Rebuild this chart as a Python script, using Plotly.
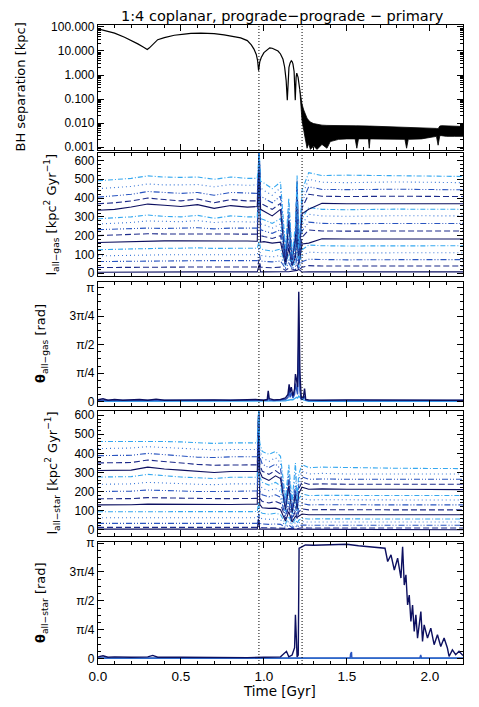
import numpy as np
import plotly.graph_objects as go

PI = np.pi

# ── BH separation [kpc] ──────────────────────────────────────────────────────
SEP_T = [0.0, 0.06, 0.1, 0.16, 0.2, 0.24, 0.27, 0.285, 0.297, 0.31,
         0.33, 0.36, 0.4, 0.46, 0.52, 0.56, 0.62, 0.66, 0.7, 0.76,
         0.8, 0.86, 0.9, 0.924, 0.94, 0.954, 0.962, 0.968, 0.975, 0.984,
         1.0, 1.02, 1.035, 1.05, 1.07, 1.085, 1.1, 1.115, 1.125, 1.134,
         1.141, 1.146, 1.151, 1.158, 1.165, 1.17, 1.175, 1.182, 1.189, 1.194,
         1.198, 1.206, 1.212, 1.216]
SEP_V = [83, 65, 55, 37, 28, 19.7, 15, 13, 11.5, 13.5,
         19, 29.5, 36, 45, 50, 54, 55.5, 55, 53, 47,
         42, 35, 27, 18, 12, 7.2, 4, 1.5, 3.5, 5.3,
         8.5, 11.5, 13.5, 13, 11.5, 9.9, 7.5, 4.5, 2.1, 0.6,
         0.09, 1.2, 2.1, 3.2, 3.9, 3.6, 2.9, 1.4, 0.09, 0.8,
         1.2, 0.8, 0.4, 0.25]

# noisy post-coalescence band: upper / lower envelope
BAND_T = [1.216, 1.22, 1.225, 1.23, 1.24, 1.25, 1.26, 1.27, 1.28, 1.3,
          1.32, 1.35, 1.38, 1.4, 1.45, 1.5, 1.55, 1.56, 1.57, 1.63,
          1.635, 1.64, 1.7, 1.8, 1.85, 1.86, 1.87, 1.95, 2.0, 2.04,
          2.05, 2.06, 2.07, 2.1, 2.15, 2.2]
BAND_HI = [0.25, 0.15, 0.09, 0.06, 0.035, 0.022, 0.016, 0.013, 0.011, 0.0095,
           0.0088, 0.0082, 0.008, 0.0079, 0.0078, 0.0077, 0.0077, 0.0077, 0.0076, 0.0075,
           0.0075, 0.0075, 0.0073, 0.007, 0.0068, 0.0068, 0.0068, 0.0066, 0.0064, 0.006,
           0.0058, 0.0075, 0.0078, 0.0076, 0.0074, 0.0072]
BAND_LO = [0.25, 0.08, 0.03, 0.012, 0.005, 0.002, 0.0009, 0.0014, 0.0008, 0.0011,
           0.0008, 0.0013, 0.0009, 0.0017, 0.0021, 0.0022, 0.0022, 0.0009, 0.0022, 0.0022,
           0.0009, 0.0022, 0.0022, 0.0022, 0.0021, 0.0009, 0.0021, 0.0022, 0.0025, 0.0028,
           0.0012, 0.003, 0.003, 0.0028, 0.0028, 0.0028]

# ── l_all-gas, 15 shells ─────────────────────────────────────────────────────
GAS_T = [0.0, 0.1, 0.2, 0.3, 0.4, 0.5, 0.6, 0.7, 0.8, 0.9, 0.96,
         0.972, 0.98, 1.0, 1.05, 1.1, 1.13, 1.15, 1.17, 1.19, 1.2, 1.21,
         1.23, 1.27, 1.35, 1.5, 1.8, 2.2]
GAS_L = [
    [5, 6, 6, 7, 7, 7, 7, 7, 7, 7, 7, 47, 7, 7, 6, 7, 8, 8, 10, 10, 15, 20, 6, 7, 7, 7, 7, 7],
    [30, 31, 32, 33, 33, 33, 33, 33, 33, 33, 33, 73, 32, 31, 29, 32, 15, 27, 20, 17, 45, 15, 32, 40, 38, 37, 38, 38],
    [62, 63, 65, 66, 67, 67, 67, 67, 67, 67, 67, 107, 65, 63, 60, 65, 25, 55, 25, 34, 90, 20, 61, 74, 72, 71, 72, 72],
    [92, 94, 96, 98, 98, 98, 99, 98, 98, 98, 98, 138, 95, 92, 86, 95, 30, 80, 30, 50, 130, 30, 93, 112, 109, 108, 110, 109],
    [125, 128, 131, 134, 133, 133, 135, 132, 133, 133, 133, 173, 129, 125, 117, 129, 40, 105, 35, 67, 175, 35, 124, 150, 146, 145, 147, 146],
    [163, 166, 168, 171, 172, 172, 173, 172, 171, 171, 170, 640, 165, 168, 160, 165, 45, 135, 40, 85, 230, 45, 155, 160, 183, 182, 183, 182],
    [200, 203, 206, 210, 209, 209, 210, 208, 209, 208, 208, 640, 200, 195, 185, 200, 50, 165, 45, 105, 280, 55, 191, 230, 225, 224, 226, 225],
    [232, 234, 236, 240, 238, 238, 242, 236, 240, 240, 240, 640, 232, 225, 212, 232, 55, 190, 50, 120, 320, 60, 225, 272, 265, 264, 266, 265],
    [262, 265, 270, 278, 274, 274, 280, 270, 275, 272, 272, 640, 262, 258, 240, 262, 60, 215, 55, 135, 360, 70, 259, 314, 305, 303, 306, 305],
    [290, 294, 300, 310, 302, 300, 308, 292, 305, 300, 300, 640, 290, 285, 265, 290, 70, 240, 60, 150, 400, 75, 289, 350, 340, 338, 341, 340],
    [335, 340, 352, 368, 362, 355, 365, 345, 360, 352, 355, 640, 340, 330, 305, 340, 60, 280, 70, 180, 490, 90, 316, 340, 372, 370, 371, 370],
    [370, 375, 385, 400, 392, 385, 395, 375, 392, 385, 385, 640, 372, 362, 340, 372, 80, 310, 75, 195, 470, 100, 348, 420, 410, 408, 410, 408],
    [405, 412, 420, 435, 428, 425, 430, 415, 430, 425, 425, 640, 410, 400, 375, 410, 90, 340, 80, 215, 480, 110, 379, 460, 446, 445, 447, 444],
    [450, 455, 462, 475, 470, 470, 472, 460, 472, 468, 470, 640, 455, 440, 415, 455, 110, 375, 90, 235, 500, 120, 411, 500, 484, 482, 486, 482],
    [492, 498, 505, 518, 512, 510, 512, 500, 512, 505, 505, 640, 490, 480, 450, 485, 130, 400, 100, 255, 520, 130, 442, 535, 520, 522, 518, 515],
]

# ── theta_all-gas ────────────────────────────────────────────────────────────
THG_T = [0.0, 0.03, 0.06, 0.1, 0.15, 0.2, 0.25, 0.3, 0.35, 0.4,
         0.5, 0.6, 0.7, 0.8, 0.9, 0.95,
         1.0, 1.02, 1.026, 1.032, 1.06, 1.1, 1.13,
         1.145, 1.152, 1.158, 1.165, 1.175, 1.185, 1.19, 1.197, 1.203,
         1.21, 1.217, 1.225, 1.238, 1.245, 1.252, 1.27,
         1.35, 1.5, 1.7, 1.9, 2.1, 2.2]
THG_NAVY = [0.05, 0.08, 0.04, 0.06, 0.04, 0.05, 0.06, 0.04, 0.07, 0.04,
            0.05, 0.06, 0.05, 0.04, 0.05, 0.06,
            0.04, 0.06, 0.30, 0.08, 0.05, 0.06, 0.1,
            0.2, 0.48, 0.25, 0.4, 0.15, 0.35, 0.76, 0.6, 0.4,
            3.03, 0.8, 0.1, 0.12, 0.36, 0.06, 0.05,
            0.04, 0.05, 0.04, 0.05, 0.04, 0.04]
THG_BLUE = [0.03, 0.03, 0.04, 0.03, 0.03, 0.04, 0.03, 0.03, 0.04, 0.03,
            0.03, 0.04, 0.03, 0.03, 0.04, 0.03,
            0.03, 0.04, 0.12, 0.04, 0.03, 0.04, 0.06,
            0.12, 0.3, 0.12, 0.25, 0.1, 0.2, 0.5, 0.35, 0.2,
            1.6, 0.3, 0.06, 0.08, 0.15, 0.04, 0.03,
            0.03, 0.03, 0.03, 0.03, 0.03, 0.03]
THG_LIGHT = [0.01, 0.01, 0.01, 0.01, 0.01, 0.01, 0.01, 0.01, 0.01, 0.01,
             0.01, 0.01, 0.01, 0.01, 0.01, 0.01,
             0.01, 0.01, 0.02, 0.01, 0.01, 0.01, 0.02,
             0.04, 0.05, 0.04, 0.06, 0.05, 0.08, 0.1, 0.12, 0.1,
             0.15, 0.12, 0.08, 0.05, 0.04, 0.02, 0.01,
             0.01, 0.01, 0.01, 0.01, 0.01, 0.01]

# ── l_all-star, 15 shells ────────────────────────────────────────────────────
STAR_T = [0.0, 0.1, 0.2, 0.3, 0.4, 0.5, 0.6, 0.7, 0.8, 0.9, 0.96,
          0.968, 0.975, 0.99, 1.03, 1.07, 1.1, 1.13, 1.15, 1.17, 1.19, 1.2,
          1.21, 1.23, 1.27, 1.35, 1.5, 1.8, 2.2]
STAR_L = [
    [3, 3, 3, 3, 3, 3, 3, 3, 3, 3, 3, 53, 3, 3, 3, 3, 3, 2, 3, 2, 2, 2, 0, 0, 0, 0, 0, 0, 0],
    [12, 12, 12, 12, 12, 12, 12, 12, 12, 12, 12, 62, 12, 11, 10, 11, 10, 6, 9, 5, 7, 5, 8, 10, 9, 9, 9, 9, 9],
    [33, 33, 33, 33, 34, 33, 33, 33, 33, 33, 33, 83, 33, 30, 28, 30, 28, 12, 25, 10, 20, 12, 21, 24, 23, 23, 23, 23, 23],
    [63, 63, 63, 64, 64, 63, 63, 63, 63, 63, 63, 113, 63, 57, 54, 57, 53, 20, 47, 18, 38, 22, 36, 42, 40, 40, 40, 40, 40],
    [94, 94, 95, 96, 96, 95, 95, 95, 94, 95, 95, 145, 95, 86, 81, 86, 80, 30, 71, 28, 57, 33, 50, 59, 56, 57, 56, 56, 56],
    [130, 130, 131, 134, 133, 132, 133, 132, 132, 133, 133, 620, 133, 115, 112, 113, 105, 45, 95, 40, 70, 65, 70, 82, 78, 79, 78, 78, 78],
    [162, 163, 163, 168, 166, 164, 165, 163, 163, 164, 164, 620, 164, 148, 140, 148, 138, 55, 125, 50, 100, 58, 94, 109, 104, 105, 104, 104, 104],
    [200, 200, 202, 208, 205, 202, 200, 200, 202, 203, 203, 620, 203, 183, 172, 183, 170, 70, 150, 60, 122, 71, 117, 137, 130, 131, 130, 130, 130],
    [238, 238, 240, 248, 244, 240, 238, 236, 240, 240, 240, 620, 240, 216, 204, 216, 200, 80, 180, 70, 144, 84, 140, 164, 156, 157, 156, 156, 156],
    [276, 276, 278, 290, 282, 276, 272, 268, 275, 275, 275, 620, 275, 248, 234, 248, 230, 95, 205, 80, 165, 96, 161, 188, 179, 180, 179, 179, 179],
    [310, 310, 312, 328, 318, 312, 306, 300, 305, 305, 305, 620, 305, 275, 258, 282, 268, 105, 230, 90, 185, 107, 190, 223, 212, 214, 212, 212, 210],
    [350, 350, 352, 365, 356, 350, 342, 338, 340, 340, 340, 620, 340, 306, 290, 310, 290, 115, 255, 100, 205, 119, 214, 250, 238, 240, 238, 238, 238],
    [388, 388, 390, 400, 394, 388, 380, 378, 382, 382, 382, 620, 382, 344, 325, 344, 320, 130, 285, 115, 230, 134, 238, 277, 264, 266, 264, 264, 264],
    [425, 425, 428, 435, 430, 426, 420, 418, 420, 420, 420, 620, 420, 378, 357, 378, 350, 145, 315, 130, 300, 147, 263, 307, 292, 295, 292, 292, 292],
    [462, 462, 462, 465, 462, 460, 455, 452, 455, 455, 455, 620, 455, 410, 395, 410, 385, 160, 340, 145, 350, 160, 292, 341, 325, 328, 325, 322, 320],
]

# ── theta_all-star ───────────────────────────────────────────────────────────
THS_T = [0.0, 0.03, 0.06, 0.1, 0.2, 0.3, 0.33, 0.36, 0.5, 0.7,
         0.9, 1.0, 1.1, 1.136, 1.15, 1.17, 1.185, 1.19, 1.195, 1.2,
         1.207, 1.212, 1.22, 1.25, 1.3, 1.4, 1.5, 1.57, 1.63, 1.67,
         1.73, 1.746, 1.766, 1.786, 1.806, 1.826, 1.836, 1.846, 1.856, 1.866,
         1.876, 1.886, 1.896, 1.906, 1.916, 1.926, 1.946, 1.956, 1.966, 1.986,
         2.006, 2.026, 2.046, 2.066, 2.086, 2.106, 2.116, 2.136, 2.156, 2.176,
         2.2]
THS_NAVY = [0.05, 0.08, 0.04, 0.05, 0.04, 0.05, 0.09, 0.04, 0.04, 0.03,
            0.03, 0.04, 0.05, 0.2, 0.05, 0.1, 0.3, 1.19, 0.7, 0.05,
            0.1, 3.0, 3.02, 3.09, 3.08, 3.1, 3.11, 3.07, 3.04, 3.02,
            3.0, 2.64, 2.82, 2.41, 2.73, 2.19, 3.04, 2.0, 2.28, 1.46,
            1.73, 1.01, 1.46, 0.74, 1.19, 0.56, 1.28, 0.47, 0.92, 0.56,
            0.83, 0.38, 0.65, 0.33, 0.56, 0.29, 0.06, 0.24, 0.11, 0.2,
            0.09]
THS_LOW_T = [0.0, 0.5, 1.0, 1.2, 1.21, 1.3, 1.52, 1.522, 1.528, 1.53,
             1.7, 1.94, 1.945, 1.95, 2.2]
THS_BLUE = [0.02, 0.02, 0.02, 0.03, 0.03, 0.02, 0.02, 0.12, 0.18, 0.02,
            0.02, 0.02, 0.1, 0.02, 0.02]
THS_LIGHT = [0.01, 0.01, 0.01, 0.01, 0.01, 0.01, 0.01, 0.01, 0.01, 0.01,
             0.01, 0.01, 0.02, 0.01, 0.01]

MERGER_T = [0.97, 1.23]

# line styles cycle over shells (IDL-like)
SHELL_COLORS = ["#0d1060", "#1c2a8a", "#2a55c0", "#3b78d8", "#35a8f0"]
SHELL_DASH = ["solid", "6px,3px", "6px,2px,1px,2px,1px,2px", "1px,3px", "5px,2px,1px,2px"]

NAVY, BLUE, LIGHT = "#0d1060", "#2a55c0", "#35a8f0"
TICK_FONT = "Liberation Sans"
TEXT_FONT = "DejaVu Sans"

fig = go.Figure()

# panel 1
fig.add_trace(go.Scatter(x=SEP_T, y=SEP_V, mode="lines",
                         line=dict(color="black", width=1.2), xaxis="x", yaxis="y"))
fig.add_trace(go.Scatter(x=BAND_T, y=BAND_LO, mode="lines",
                         line=dict(color="black", width=0.8), xaxis="x", yaxis="y"))
fig.add_trace(go.Scatter(x=BAND_T, y=BAND_HI, mode="lines", fill="tonexty",
                         fillcolor="black", line=dict(color="black", width=0.8),
                         xaxis="x", yaxis="y"))


def add_shells(times, rows, xa, ya):
    for i, row in enumerate(rows):
        k = i % 5
        fig.add_trace(go.Scatter(x=times, y=row, mode="lines", xaxis=xa, yaxis=ya,
                                 line=dict(color=SHELL_COLORS[k], width=1.1,
                                           dash=SHELL_DASH[k])))


add_shells(GAS_T, GAS_L, "x2", "y2")
for vals, col in [(THG_LIGHT, LIGHT), (THG_BLUE, BLUE), (THG_NAVY, NAVY)]:
    fig.add_trace(go.Scatter(x=THG_T, y=vals, mode="lines", xaxis="x3", yaxis="y3",
                             line=dict(color=col, width=1.4)))
add_shells(STAR_T, STAR_L, "x4", "y4")
for t, vals, col in [(THS_LOW_T, THS_LIGHT, LIGHT), (THS_LOW_T, THS_BLUE, BLUE),
                     (THS_T, THS_NAVY, NAVY)]:
    fig.add_trace(go.Scatter(x=t, y=vals, mode="lines", xaxis="x5", yaxis="y5",
                             line=dict(color=col, width=1.4)))

# merger markers
for n in range(1, 6):
    suffix = "" if n == 1 else str(n)
    for t in MERGER_T:
        fig.add_shape(type="line", x0=t, x1=t, y0=0, y1=1,
                      xref="x" + suffix, yref="y" + suffix + " domain",
                      line=dict(color="black", width=1, dash="1px,2px"))


def frame(**kw):
    base = dict(showline=True, linecolor="black", linewidth=1.3, mirror="allticks",
                ticks="inside", ticklen=6, tickwidth=1, tickcolor="black",
                showgrid=False, zeroline=False,
                tickfont=dict(family=TICK_FONT, size=12, color="black"))
    base.update(kw)
    return base


TOTAL_H, TOP, BOT = 707, 17, 51
PLOT_H = TOTAL_H - TOP - BOT
PANEL_PX = [(17, 142), (145, 268), (274, 398), (403, 528), (534, 656)]
domains = [[(TOTAL_H - BOT - b) / PLOT_H, (TOTAL_H - BOT - a) / PLOT_H] for a, b in PANEL_PX]

pi_ticks = dict(tickmode="array", tickvals=[0, PI / 4, PI / 2, 3 * PI / 4, PI],
                ticktext=["0", "π/4", "π/2", "3π/4", "π"],
                minor=dict(ticks="inside", ticklen=3, tickcolor="black", dtick=PI / 16,
                           tick0=0, showgrid=False))
l_ticks = dict(dtick=100, tick0=0,
               minor=dict(ticks="inside", ticklen=3, tickcolor="black", dtick=20, showgrid=False))

layout = dict(
    width=479, height=707,
    margin=dict(l=90, r=24, t=TOP, b=BOT),
    plot_bgcolor="white", paper_bgcolor="white",
    showlegend=False,
    font=dict(family=TEXT_FONT, size=13, color="black"),
)

y_specs = [
    dict(type="log", range=[-3.12, 2.08], tickmode="array",
         tickvals=[0.001, 0.01, 0.1, 1, 10, 100],
         ticktext=["0.001", "0.010", "0.100", "1.000", "10.000", "100.000"],
         minor=dict(ticks="inside", ticklen=3, tickcolor="black", dtick="D1", showgrid=False)),
    dict(range=[-15, 640], **l_ticks),
    dict(range=[-0.12, 3.3], **pi_ticks),
    dict(range=[-33, 622], **l_ticks),
    dict(range=[-0.144, 3.17], **pi_ticks),
]

for n in range(1, 6):
    suffix = "" if n == 1 else str(n)
    layout["xaxis" + suffix] = frame(
        range=[0, 2.2], dtick=0.5, tick0=0, tickformat=".1f",
        anchor="y" + suffix, domain=[0, 1], showticklabels=(n == 5),
        minor=dict(ticks="inside", ticklen=3, tickcolor="black", dtick=0.1, showgrid=False),
        **({} if n == 1 else dict(matches="x")))
    layout["yaxis" + suffix] = frame(anchor="x" + suffix, domain=domains[n - 1],
                                     **y_specs[n - 1])
layout["xaxis5"]["tickfont"] = dict(family=TICK_FONT, size=13.5, color="black")

fig.update_layout(**layout)

# axis titles as rotated annotations, placed like the IDL original
Y_TITLES = [
    ("BH separation [kpc]", 12),
    ("l<sub>all−gas</sub> [kpc<sup>2</sup> Gyr<sup>−1</sup>]", 44),
    ("<b>θ</b><sub>all−gas</sub> [rad]", 33),
    ("l<sub>all−star</sub> [kpc<sup>2</sup> Gyr<sup>−1</sup>]", 44),
    ("<b>θ</b><sub>all−star</sub> [rad]", 33),
]
for (text, px), (d0, d1) in zip(Y_TITLES, domains):
    fig.add_annotation(text=text, textangle=-90, showarrow=False,
                       xref="paper", yref="paper", x=(px - 90) / 365, y=(d0 + d1) / 2,
                       xanchor="center", yanchor="middle",
                       font=dict(family=TEXT_FONT, size=13, color="black"))

fig.add_annotation(text="Time [Gyr]", showarrow=False, xref="paper", yref="paper",
                   x=0.497, y=(TOTAL_H - BOT - 683) / PLOT_H, xanchor="center",
                   yanchor="middle", font=dict(family=TEXT_FONT, size=13.5, color="black"))
fig.add_annotation(text="1:4 coplanar, prograde−prograde − primary", showarrow=False,
                   xref="paper", yref="paper", x=0.505, y=(TOTAL_H - BOT - 8) / PLOT_H,
                   xanchor="center", yanchor="middle",
                   font=dict(family=TEXT_FONT, size=14.5, color="black"))

fig.write_html("out.html")
